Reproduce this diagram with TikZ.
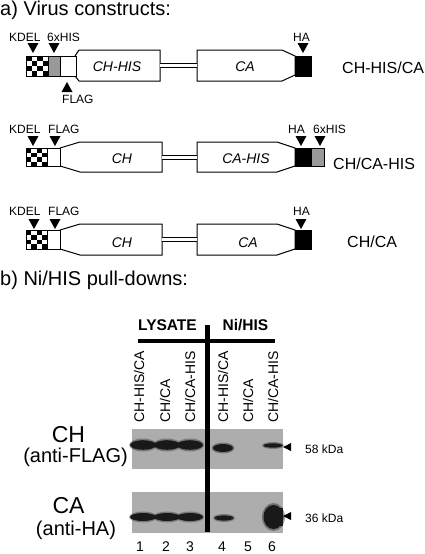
\documentclass[tikz,border=0pt]{standalone}
\usepackage{fontspec}
\setmainfont{Liberation Sans}
\usepackage{tikz}
\usetikzlibrary{calc}

\definecolor{hisgray}{gray}{0.6}
\definecolor{blotgray}{gray}{0.68}
\definecolor{bandcol}{gray}{0.1}

\tikzset{
	tag/.style={font=\fontsize{12}{14}\selectfont, inner sep=0pt, anchor=base west},
	dom/.style={font=\fontsize{14}{16}\selectfont\itshape, inner sep=0pt, anchor=base},
	cname/.style={font=\fontsize{16}{18}\selectfont, inner sep=0pt, anchor=base west},
	lane/.style={font=\fontsize{14}{16}\selectfont, inner sep=0pt, rotate=90, anchor=west},
	lnum/.style={font=\fontsize{14}{16}\selectfont, inner sep=0pt, anchor=base},
	part/.style={font=\fontsize{20}{24}\selectfont, inner sep=0pt, anchor=base west},
	gene/.style={draw, fill=white, line width=1pt, line join=miter},
	link/.style={double, double distance=3.4pt, line width=0.9pt},
	band/.style={fill=bandcol},
}

% down / up marker triangles
\newcommand{\tagdown}[2]{\fill (#1-5.5,#2) -- (#1+5.5,#2) -- (#1,#2+10) -- cycle;}
\newcommand{\tagup}[2]{\fill (#1-5.5,#2+10) -- (#1+5.5,#2+10) -- (#1,#2) -- cycle;}
% KDEL checker box: x y w h
\newcommand{\checker}[4]{%
	\fill[white] (#1,#2) rectangle ++(#3,#4);
	\foreach \i in {0,...,3}{
		\foreach \j in {0,...,3}{
			\pgfmathtruncatemacro\k{mod(\i+\j,2)}
			\ifnum\k=0 \fill (#1+\i*#3/4,#2+\j*#4/4) rectangle ++(#3/4,#4/4);\fi
		}
	}
	\draw[line width=1pt] (#1,#2) rectangle ++(#3,#4);}

\begin{document}
\begin{tikzpicture}[x=1pt, y=-1pt]
	\useasboundingbox (0,0) rectangle (425,554);
	
	\node[part] (ta) at (0,16) {a) Virus constructs:};
	
	% construct 1
	\draw[gene] (75,56) -- (79,50) -- (160,50) -- (160,81) -- (79,81) -- (75,76) -- cycle;
	\draw[gene] (197,50) -- (282,50) -- (295,56) -- (295,75) -- (282,81) -- (197,81) -- cycle;
	\coordinate (chr1) at (160,65.5);
	\coordinate (cal1) at (197,65.5);
	\draw[link] (chr1) -- (cal1);
	\checker{26}{56}{22}{20}
	\draw[line width=1pt, fill=hisgray] (48,56) rectangle (60,76);
	\draw[line width=1pt, fill=white] (60,56) rectangle (76,76);
	\draw[line width=1pt, fill=black] (295,56) rectangle (311,76);
	\tagdown{33}{43}
	\tagdown{54}{43}
	\tagdown{303}{43}
	\tagup{67}{82}
	\node[tag] (kdel1) at (9,41) {KDEL};
	\node[tag] (his1) at (47,41) {6xHIS};
	\node[tag] (ha1) at (293,41) {HA};
	\node[tag] (flag1) at (62,103) {FLAG};
	\node[dom] (ch1) at (117,71) {CH-HIS};
	\node[dom] (ca1) at (245,71) {CA};
	\node[cname] (c1) at (342,73) {CH-HIS/CA};
	
	% construct 2
	\draw[gene] (60,148) -- (80,142) -- (162,142) -- (162,172) -- (80,172) -- (60,166) -- cycle;
	\draw[gene] (197,142) -- (277,142) -- (295,148) -- (295,166) -- (277,172) -- (197,172) -- cycle;
	\coordinate (chr2) at (162,157.3);
	\coordinate (cal2) at (197,157.3);
	\draw[link] (chr2) -- (cal2);
	\checker{26}{148}{21}{18}
	\draw[line width=1pt, fill=white] (47,148) rectangle (60,166);
	\draw[line width=1pt, fill=black] (295,148) rectangle (311,166);
	\draw[line width=1pt, fill=hisgray] (311,148) rectangle (324,166);
	\tagdown{33}{136}
	\tagdown{55}{136}
	\tagdown{301}{136}
	\tagdown{320}{136}
	\node[tag] (kdel2) at (9,133) {KDEL};
	\node[tag] (flag2) at (48,133) {FLAG};
	\node[tag] (ha2) at (288,133) {HA};
	\node[tag] (his2) at (313,133) {6xHIS};
	\node[dom] (ch2) at (122,163) {CH};
	\node[dom] (ca2) at (246,163) {CA-HIS};
	\node[cname] (c2) at (333,169) {CH/CA-HIS};
	
	% construct 3
	\draw[gene] (60,230) -- (80,224) -- (162,224) -- (162,255) -- (80,255) -- (60,249) -- cycle;
	\draw[gene] (197,224) -- (277,224) -- (295,230) -- (295,249) -- (277,255) -- (197,255) -- cycle;
	\coordinate (chr3) at (162,239.5);
	\coordinate (cal3) at (197,239.5);
	\draw[link] (chr3) -- (cal3);
	\checker{26}{230}{21}{19}
	\draw[line width=1pt, fill=white] (47,230) rectangle (60,249);
	\draw[line width=1pt, fill=black] (295,230) rectangle (311,249);
	\tagdown{34}{219}
	\tagdown{55}{219}
	\tagdown{301}{219}
	\node[tag] (kdel3) at (9,215) {KDEL};
	\node[tag] (flag3) at (48,215) {FLAG};
	\node[tag] (ha3) at (293,215) {HA};
	\node[dom] (ch3) at (122,247) {CH};
	\node[dom] (ca3) at (248,247) {CA};
	\node[cname] (c3) at (347,247) {CH/CA};
	
	\node[part] (tb) at (0,285) {b) Ni/HIS pull-downs:};
	
	% blot header
	\node[font=\fontsize{15.5}{18}\selectfont\bfseries, inner sep=0pt, anchor=base] (lys) at (167.5,330) {LYSATE};
	\node[font=\fontsize{15.5}{18}\selectfont\bfseries, inner sep=0pt, anchor=base] (ni) at (245.5,330) {Ni/HIS};
	\node[lane] (l1) at (139,423) {CH-HIS/CA};
	\node[lane] (l2) at (165,423) {CH/CA};
	\node[lane] (l3) at (190,423) {CH/CA-HIS};
	\node[lane] (l4) at (223,423) {CH-HIS/CA};
	\node[lane] (l5) at (248,423) {CH/CA};
	\node[lane] (l6) at (273,423) {CH/CA-HIS};
	
	% blots
	\fill[blotgray] (132,429) rectangle (283,469);
	\fill[blotgray] (132,492) rectangle (283,533);
	\foreach \x in {143,167,190}{
		\fill[band, opacity=.35] (\x,445) ellipse [x radius=14pt, y radius=6.5pt];
		\fill[band] (\x,445) ellipse [x radius=13pt, y radius=4.8pt];
		\fill[band, opacity=.35] (\x,517) ellipse [x radius=14pt, y radius=5.5pt];
		\fill[band] (\x,517) ellipse [x radius=13pt, y radius=4pt];
	}
	\fill[band, opacity=.35] (223,448) ellipse [x radius=11.5pt, y radius=5.5pt];
	\fill[band] (223,448) ellipse [x radius=10pt, y radius=4pt];
	\fill[band, opacity=.35] (273,445.5) ellipse [x radius=11pt, y radius=3.5pt];
	\fill[band] (273,445.5) ellipse [x radius=9.5pt, y radius=2.2pt];
	\fill[band, opacity=.35] (224,518) ellipse [x radius=11pt, y radius=4pt];
	\fill[band] (224,518) ellipse [x radius=9.5pt, y radius=2.6pt];
	\fill[band, opacity=.4] (273.5,517) ellipse [x radius=11.5pt, y radius=14pt];
	\fill[band] (273.5,517) ellipse [x radius=10pt, y radius=12pt];
	\fill[band] (268,508) rectangle (283,526);
	
	% divider bars
	\coordinate (hl) at (138,341);
	\coordinate (hr) at (275,341);
	\coordinate (vt) at (207.5,325);
	\coordinate (vb) at (207.5,532);
	\draw[line width=4pt] (hl) -- (hr);
	\draw[line width=5pt] (vt) -- (vb);
	
	% size markers
	\fill (283,447) -- (291,443) -- (291,451) -- cycle;
	\fill (283,516) -- (291,512) -- (291,520) -- cycle;
	\node[tag] (k58) at (305,453) {58 kDa};
	\node[tag] (k36) at (305,522) {36 kDa};
	
	% antibody labels
	\node[font=\fontsize{23}{26}\selectfont, inner sep=0pt, anchor=base] (abch) at (68.5,442) {CH};
	\node[font=\fontsize{20}{24}\selectfont, inner sep=0pt, anchor=base] (abflag) at (75.5,462) {(anti-FLAG)};
	\node[font=\fontsize{23}{26}\selectfont, inner sep=0pt, anchor=base] (abca) at (68.5,513) {CA};
	\node[font=\fontsize{20}{24}\selectfont, inner sep=0pt, anchor=base] (abha) at (76,535) {(anti-HA)};
	
	\node[lnum] (n1) at (140,551) {1};
	\node[lnum] (n2) at (166,551) {2};
	\node[lnum] (n3) at (190,551) {3};
	\node[lnum] (n4) at (222,551) {4};
	\node[lnum] (n5) at (248,551) {5};
	\node[lnum] (n6) at (272,551) {6};
\end{tikzpicture}
\end{document}
